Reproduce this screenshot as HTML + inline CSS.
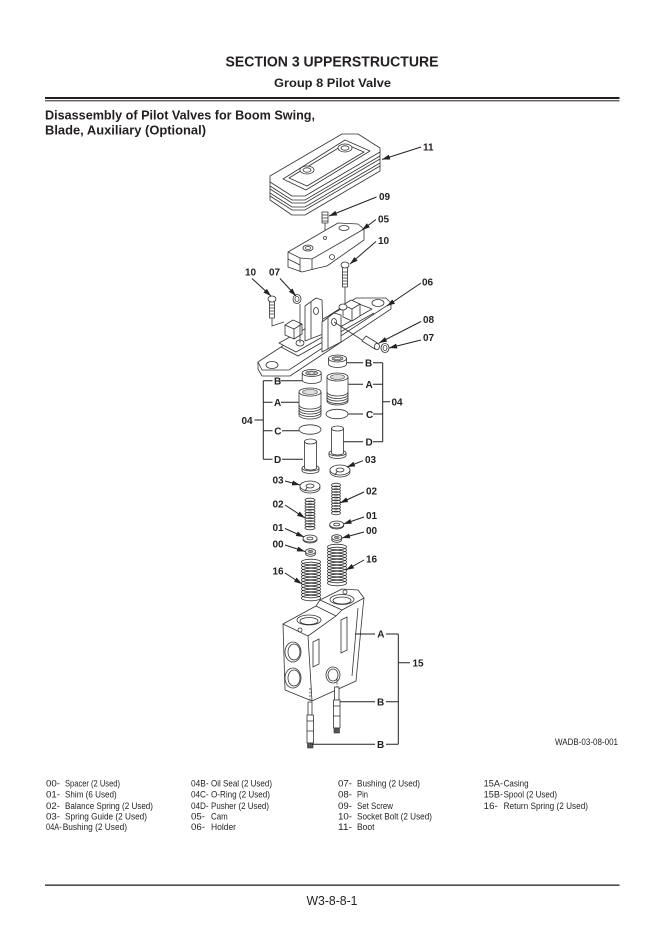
<!DOCTYPE html>
<html><head><meta charset="utf-8">
<style>
html,body{margin:0;padding:0;background:#fff;}
svg{display:block;}
text{font-family:"Liberation Sans",Arial,sans-serif;fill:#231f20;}
.b{font-weight:bold;}
.l{font-weight:bold;font-size:10px;}
.g{font-size:9px;}
.p{fill:#fff;stroke:#333;stroke-width:0.8;stroke-linejoin:round;}
.n{fill:none;stroke:#333;stroke-width:0.8;}
.k{fill:none;stroke:#222;stroke-width:1;}
</style></head><body>
<svg width="663" height="943" viewBox="0 0 663 943" xmlns="http://www.w3.org/2000/svg">
<defs>
<marker id="a" viewBox="0 0 8 5" refX="8" refY="2.5" markerWidth="8" markerHeight="5" orient="auto" markerUnits="userSpaceOnUse"><path d="M0,0L8,2.5L0,5Z" fill="#222"/></marker>
</defs>

<!-- Header -->
<text x="225.5" y="66.7" class="b" font-size="14.5" textLength="213" lengthAdjust="spacingAndGlyphs">SECTION 3 UPPERSTRUCTURE</text>
<text x="274" y="87" class="b" font-size="11.5" textLength="117" lengthAdjust="spacingAndGlyphs">Group 8 Pilot Valve</text>
<rect x="45" y="97" width="574.5" height="2" fill="#231f20"/>
<rect x="45" y="100.3" width="574.5" height="1" fill="#231f20"/>
<text x="45" y="119.5" class="b" font-size="12.5" textLength="270" lengthAdjust="spacingAndGlyphs">Disassembly of Pilot Valves for Boom Swing,</text>
<text x="45" y="134.7" class="b" font-size="12.5" textLength="161" lengthAdjust="spacingAndGlyphs">Blade, Auxiliary (Optional)</text>

<!-- Boot 11 -->
<path class="p" d="M270,180 L270,200 L292,215 L305,215 L380,171 L380,150 Z"/>
<polyline class="n" points="270,186 292,200 305,200 380,156"/>
<polyline class="n" points="270,189 292,203 305,203 380,159"/>
<polyline class="n" points="270,193 292,207 305,207 380,163"/>
<polyline class="n" points="270,196 292,210 305,210 380,166"/>
<polygon class="p" points="270,176 342,134 358,134 380,148 380,152 305,196 292,196 270,182"/>
<polygon class="p" points="283,179 345,140 370,151 306,190"/>
<polygon class="n" points="289,178 345,144 364,152 307,186"/>
<ellipse class="p" cx="307" cy="170" rx="7" ry="4"/>
<ellipse class="n" cx="307" cy="170" rx="4" ry="2.2"/>
<ellipse class="p" cx="345" cy="148" rx="7" ry="4"/>
<ellipse class="n" cx="345" cy="148" rx="4" ry="2.2"/>

<!-- Set screw 09 -->
<rect class="p" x="322" y="212" width="6" height="11"/>
<path class="n" d="M322,215H328M322,218H328M322,221H328"/>
<line class="n" x1="325" y1="223" x2="325" y2="236"/>

<!-- Cam 05 -->
<path class="p" d="M288,252 L338,223 L358,224 L364,229 L364,240 L327,266 L318,268 L302,272 L288,267 Z"/>
<path class="n" d="M288,252 L300,258 L312,259 L364,229"/>
<path class="n" d="M300,258 L300,272 M312,259 L312,270 M288,259 L300,265"/>
<ellipse class="p" cx="308" cy="248" rx="5" ry="3"/>
<ellipse class="n" cx="308" cy="248" rx="2.5" ry="1.5"/>
<ellipse class="p" cx="344" cy="228" rx="5" ry="2.5"/>
<circle class="n" cx="332" cy="257" r="2.5"/>
<circle class="n" cx="325" cy="238" r="1.5"/>

<!-- Bolts 10 -->
<rect class="p" x="342.5" y="266" width="5" height="21"/>
<path class="n" d="M342.5,272H347.5M342.5,275H347.5M342.5,278H347.5M342.5,281H347.5M342.5,284H347.5"/>
<ellipse class="p" cx="345" cy="265" rx="4" ry="3"/>
<rect class="p" x="269.5" y="300" width="5" height="18"/>
<path class="n" d="M269.5,305H274.5M269.5,308H274.5M269.5,311H274.5M269.5,314H274.5"/>
<ellipse class="p" cx="272" cy="299" rx="4" ry="3"/>

<!-- Holder 06 -->
<path class="p" d="M258,362 L356,298 L386,298 L391,303 L391,309 L290,376 L262,376 L258,369 Z"/>
<path class="n" d="M258,362 L262,370 L289,370 L391,303"/>
<ellipse class="p" cx="272" cy="365" rx="6" ry="3.5"/>
<ellipse class="p" cx="378" cy="303" rx="6" ry="3.5"/>
<path class="p" d="M279,343 L354,302 L372,309 L296,352 Z"/>
<path class="n" d="M281,347 L298,356 L374,313"/>
<path class="p" d="M285,325 L293,320 L302,324 L302,334 L294,339 L285,335 Z"/>
<path class="n" d="M285,325 L294,329 L302,324 M294,329 L294,339"/>
<path class="p" d="M343,305 L351,300 L360,304 L360,316 L352,321 L343,317 Z"/>
<path class="n" d="M343,305 L352,309 L360,304 M352,309 L352,321"/>
<path class="p" d="M305,341 L305,306 L316,298 L322,300 L323,334 Z"/>
<path class="n" d="M311,302 L311,338"/>
<ellipse class="p" cx="316" cy="311" rx="2.5" ry="3.5"/>
<path class="p" d="M322,352 L322,322 L334,313 L341,315 L341,342 Z"/>
<path class="n" d="M328,318 L328,349"/>
<ellipse class="p" cx="334" cy="322" rx="2.5" ry="3.5"/>
<ellipse class="p" cx="300" cy="343" rx="4" ry="3"/>
<ellipse class="p" cx="343" cy="307" rx="4" ry="3"/>
<path class="n" d="M300,304 L300,343 M272,318 L272,326 L284,322 M345,287 L345,304 M334,322 L362,340"/>

<!-- Pin 08, bushings 07 -->
<path class="p" d="M362,341 L366,336 L379,344 L375,349 Z"/>
<ellipse class="p" cx="377" cy="346.5" rx="2.5" ry="3.2"/>
<ellipse class="p" cx="385" cy="348" rx="4" ry="4.5"/>
<ellipse class="n" cx="385" cy="348" rx="2" ry="2.5"/>
<ellipse class="p" cx="297" cy="299" rx="4" ry="4.5"/>
<ellipse class="n" cx="297" cy="299" rx="2" ry="2.5"/>

<!-- 04 parts right -->
<path class="p" d="M328.5,358.5 L328.5,364 A9,3.5 0 0 0 346.5,364 L346.5,358.5 Z"/>
<ellipse class="p" cx="337.5" cy="358.5" rx="9" ry="3.5"/>
<ellipse fill="#bbb" stroke="#333" stroke-width="0.6" cx="337.5" cy="358.5" rx="5.5" ry="2"/>
<ellipse fill="#fff" stroke="#333" stroke-width="0.5" cx="337.5" cy="358.5" rx="3" ry="1.1"/>
<path class="p" d="M327,377 L327,401 A10.5,4 0 0 0 348,401 L348,377 Z"/>
<path class="n" d="M327,392 A10.5,4 0 0 0 348,392 M327,394.5 A10.5,4 0 0 0 348,394.5 M327,397 A10.5,4 0 0 0 348,397 M327,399.5 A10.5,4 0 0 0 348,399.5"/>
<ellipse class="p" cx="337.5" cy="377" rx="10.5" ry="4"/>
<ellipse fill="#ddd" stroke="#333" stroke-width="0.6" cx="337.5" cy="377" rx="7" ry="2.5"/>
<ellipse class="n" cx="337" cy="414" rx="11" ry="4.7"/>
<path class="p" d="M329,453 L329,455.5 A8.5,3 0 0 0 346,455.5 L346,453 Z"/>
<ellipse class="p" cx="337.5" cy="453" rx="8.5" ry="3"/>
<path class="p" d="M331.5,428.5 L331.5,453 A6,2 0 0 0 343.5,453 L343.5,428.5 Z"/>
<ellipse class="p" cx="337.5" cy="428.5" rx="6" ry="2.5"/>

<!-- 04 parts left -->
<path class="p" d="M302.2,373 L302.2,380 A9.5,3.5 0 0 0 321.2,380 L321.2,373 Z"/>
<ellipse class="p" cx="311.7" cy="373" rx="9.5" ry="3.5"/>
<ellipse fill="#bbb" stroke="#333" stroke-width="0.6" cx="311.7" cy="373" rx="6" ry="2"/>
<ellipse fill="#fff" stroke="#333" stroke-width="0.5" cx="311.7" cy="373" rx="3.2" ry="1.1"/>
<path class="p" d="M299,392 L299,415 A11,4 0 0 0 321,415 L321,392 Z"/>
<path class="n" d="M299,405 A11,4 0 0 0 321,405 M299,407.5 A11,4 0 0 0 321,407.5 M299,410 A11,4 0 0 0 321,410 M299,412.5 A11,4 0 0 0 321,412.5"/>
<ellipse class="p" cx="310" cy="392" rx="11" ry="4"/>
<ellipse fill="#ddd" stroke="#333" stroke-width="0.6" cx="310" cy="392" rx="7.5" ry="2.5"/>
<ellipse class="n" cx="310" cy="429.5" rx="11" ry="4.7"/>
<path class="p" d="M302,468 L302,470.5 A8.5,3 0 0 0 319,470.5 L319,468 Z"/>
<ellipse class="p" cx="310.5" cy="468" rx="8.5" ry="3"/>
<path class="p" d="M304.5,441.5 L304.5,468 A6,2 0 0 0 316.5,468 L316.5,441.5 Z"/>
<ellipse class="p" cx="310.5" cy="441.5" rx="6" ry="2.5"/>

<!-- Spring guides 03 -->
<ellipse class="p" cx="340" cy="472" rx="10" ry="5"/>
<ellipse class="p" cx="340" cy="470" rx="10" ry="5"/>
<ellipse class="n" cx="340" cy="470" rx="4" ry="2"/>
<path class="n" d="M337,471.5 L335,475"/>
<ellipse class="p" cx="310" cy="488" rx="10" ry="5"/>
<ellipse class="p" cx="310" cy="486" rx="10" ry="5"/>
<ellipse class="n" cx="310" cy="486" rx="4" ry="2"/>
<path class="n" d="M307,487.5 L305,491"/>

<!-- Springs 02 -->
<g class="n">
<ellipse cx="336" cy="485" rx="4.5" ry="1.8"/><ellipse cx="336" cy="487.8" rx="4.5" ry="1.8"/><ellipse cx="336" cy="490.6" rx="4.5" ry="1.8"/><ellipse cx="336" cy="493.4" rx="4.5" ry="1.8"/><ellipse cx="336" cy="496.2" rx="4.5" ry="1.8"/><ellipse cx="336" cy="499" rx="4.5" ry="1.8"/><ellipse cx="336" cy="501.8" rx="4.5" ry="1.8"/><ellipse cx="336" cy="504.6" rx="4.5" ry="1.8"/><ellipse cx="336" cy="507.4" rx="4.5" ry="1.8"/><ellipse cx="336" cy="510.2" rx="4.5" ry="1.8"/><ellipse cx="336" cy="513" rx="4.5" ry="1.8"/>
<ellipse cx="310" cy="500" rx="5" ry="1.8"/><ellipse cx="310" cy="502.8" rx="5" ry="1.8"/><ellipse cx="310" cy="505.6" rx="5" ry="1.8"/><ellipse cx="310" cy="508.4" rx="5" ry="1.8"/><ellipse cx="310" cy="511.2" rx="5" ry="1.8"/><ellipse cx="310" cy="514" rx="5" ry="1.8"/><ellipse cx="310" cy="516.8" rx="5" ry="1.8"/><ellipse cx="310" cy="519.6" rx="5" ry="1.8"/><ellipse cx="310" cy="522.4" rx="5" ry="1.8"/><ellipse cx="310" cy="525.2" rx="5" ry="1.8"/><ellipse cx="310" cy="528" rx="5" ry="1.8"/>
</g>

<!-- Shims 01 / spacers 00 -->
<ellipse class="p" cx="336.7" cy="525.5" rx="7" ry="3.5"/>
<ellipse class="p" cx="336.7" cy="524.5" rx="7" ry="3.5"/>
<ellipse class="n" cx="336.7" cy="524.5" rx="3" ry="1.4"/>
<ellipse class="p" cx="336.7" cy="539.5" rx="5" ry="2.8"/>
<ellipse class="p" cx="336.7" cy="537.5" rx="5" ry="2.8"/>
<ellipse fill="#999" stroke="#333" stroke-width="0.5" cx="336.7" cy="537.5" rx="2.5" ry="1.2"/>
<ellipse class="p" cx="310" cy="539.5" rx="7" ry="3.5"/>
<ellipse class="p" cx="310" cy="538.5" rx="7" ry="3.5"/>
<ellipse class="n" cx="310" cy="538.5" rx="3" ry="1.4"/>
<ellipse class="p" cx="310.5" cy="553.5" rx="5" ry="2.8"/>
<ellipse class="p" cx="310.5" cy="551.5" rx="5" ry="2.8"/>
<ellipse fill="#999" stroke="#333" stroke-width="0.5" cx="310.5" cy="551.5" rx="2.5" ry="1.2"/>

<!-- Springs 16 -->
<g class="n">
<ellipse cx="337" cy="547" rx="9.5" ry="2.8"/><ellipse cx="337" cy="550" rx="9.5" ry="2.8"/><ellipse cx="337" cy="553" rx="9.5" ry="2.8"/><ellipse cx="337" cy="556" rx="9.5" ry="2.8"/><ellipse cx="337" cy="559" rx="9.5" ry="2.8"/><ellipse cx="337" cy="562" rx="9.5" ry="2.8"/><ellipse cx="337" cy="565" rx="9.5" ry="2.8"/><ellipse cx="337" cy="568" rx="9.5" ry="2.8"/><ellipse cx="337" cy="571" rx="9.5" ry="2.8"/><ellipse cx="337" cy="574" rx="9.5" ry="2.8"/><ellipse cx="337" cy="577" rx="9.5" ry="2.8"/><ellipse cx="337" cy="580" rx="9.5" ry="2.8"/><ellipse cx="337" cy="583" rx="9.5" ry="2.8"/>
<ellipse cx="311" cy="562" rx="9.5" ry="2.8"/><ellipse cx="311" cy="565" rx="9.5" ry="2.8"/><ellipse cx="311" cy="568" rx="9.5" ry="2.8"/><ellipse cx="311" cy="571" rx="9.5" ry="2.8"/><ellipse cx="311" cy="574" rx="9.5" ry="2.8"/><ellipse cx="311" cy="577" rx="9.5" ry="2.8"/><ellipse cx="311" cy="580" rx="9.5" ry="2.8"/><ellipse cx="311" cy="583" rx="9.5" ry="2.8"/><ellipse cx="311" cy="586" rx="9.5" ry="2.8"/><ellipse cx="311" cy="589" rx="9.5" ry="2.8"/><ellipse cx="311" cy="592" rx="9.5" ry="2.8"/><ellipse cx="311" cy="595" rx="9.5" ry="2.8"/><ellipse cx="311" cy="598" rx="9.5" ry="2.8"/>
</g>

<!-- Casing 15A -->
<path class="p" d="M283,624 L316,606 L320,600 L342,589 L358,590 L364,598 L363,607 L356,681 L312,701 L285,690 Z"/>
<path class="n" d="M283,624 L308,636 L312,701 M308,636 L336,616 L342,610 M316,606 L336,616 M320,600 L342,610 L364,598 M358,608 L352,676"/>
<ellipse class="p" cx="309" cy="620" rx="12" ry="5"/>
<ellipse class="n" cx="309" cy="621" rx="9" ry="3.5"/>
<ellipse class="p" cx="342" cy="599.5" rx="12" ry="5"/>
<ellipse class="n" cx="342" cy="600.5" rx="9" ry="3.5"/>
<path class="n" d="M313,642 L319,639 L319,664 L313,667 Z M341,620 L347,617 L347,650 L341,653 Z"/>
<ellipse class="p" cx="293" cy="652" rx="8" ry="10"/>
<ellipse class="n" cx="294" cy="652" rx="6" ry="8"/>
<ellipse class="p" cx="293" cy="678" rx="8" ry="10"/>
<ellipse class="n" cx="294" cy="678" rx="6" ry="8"/>
<ellipse class="p" cx="333" cy="675" rx="7" ry="8"/>
<ellipse class="n" cx="333" cy="675" rx="5" ry="6"/>
<circle class="n" cx="300" cy="630" r="2"/>
<circle class="n" cx="345" cy="592" r="2"/>

<!-- Spools 15B -->
<path class="n" stroke-dasharray="2,1.5" d="M310,688 L310,702 M337,679 L337,687"/>
<rect class="p" x="334.5" y="687" width="4.5" height="13"/>
<rect class="p" x="333.5" y="700" width="6.5" height="28"/>
<path class="n" d="M333.5,706H340M333.5,716H340"/>
<rect x="334" y="728" width="5.5" height="5" fill="#555" stroke="#333" stroke-width="0.6"/>
<rect class="p" x="308" y="702" width="4" height="13"/>
<rect class="p" x="307" y="715" width="6.5" height="28"/>
<path class="n" d="M307,721H313.5M307,731H313.5"/>
<rect x="307.5" y="743" width="5.5" height="5" fill="#555" stroke="#333" stroke-width="0.6"/>

<!-- Leaders with arrows -->
<g class="k" marker-end="url(#a)">
<line x1="421" y1="147" x2="382" y2="159.5"/>
<line x1="376.5" y1="197" x2="329" y2="216"/>
<line x1="376" y1="219.5" x2="362" y2="230"/>
<line x1="376" y1="241.5" x2="350" y2="264"/>
<line x1="252" y1="278.5" x2="271" y2="296"/>
<line x1="280" y1="278.5" x2="296" y2="296"/>
<line x1="421" y1="283" x2="387" y2="306"/>
<line x1="421" y1="321.5" x2="379" y2="343"/>
<line x1="421" y1="340" x2="389" y2="348"/>
<line x1="363" y1="460.7" x2="347" y2="467"/>
<line x1="285" y1="481" x2="300" y2="485"/>
<line x1="364" y1="492" x2="340" y2="503"/>
<line x1="285" y1="505" x2="305" y2="518"/>
<line x1="364" y1="517" x2="343.5" y2="524"/>
<line x1="364" y1="532" x2="342" y2="538"/>
<line x1="285" y1="528.5" x2="304" y2="537"/>
<line x1="285" y1="545" x2="305" y2="551.5"/>
<line x1="364" y1="560" x2="346" y2="570"/>
<line x1="285" y1="573" x2="302" y2="584"/>
</g>

<!-- Brackets -->
<g class="k">
<path d="M347,362.7H363M373,362.7H382.7M348.5,384.3H363M373,384.3H382.7M348.5,414H363M373,414H382.7M343.5,441.7H363M373,441.7H382.7M382.7,362.7V441.7M382.7,401.7H390"/>
<path d="M280.5,380.7H302M263.3,380.7H272.5M281,402.3H299M263.3,402.3H272.5M282,430.7H299M263.3,430.7H272.5M282,459.3H303M263.3,459.3H272.5M263.3,380.7V459.3M254.5,420H263.3"/>
<path d="M355,634H375M386,634H398.3M398.3,634V744.3M398.3,662.7H410M340,701.7H375M386,701.7H398.3M312,744.3H375M386,744.3H398.3"/>
</g>

<!-- Labels -->
<g class="l">
<text x="423" y="150.5">11</text>
<text x="379" y="200">09</text>
<text x="378" y="222.5">05</text>
<text x="378" y="244">10</text>
<text x="245" y="275.5">10</text>
<text x="269" y="275.5">07</text>
<text x="422" y="285.5">06</text>
<text x="423" y="323">08</text>
<text x="423" y="341">07</text>
<text x="365" y="366.5">B</text>
<text x="365.5" y="388">A</text>
<text x="366" y="418">C</text>
<text x="365.5" y="445.5">D</text>
<text x="391.5" y="405.5">04</text>
<text x="274" y="384.3">B</text>
<text x="274" y="406">A</text>
<text x="274.3" y="434.3">C</text>
<text x="274" y="463">D</text>
<text x="241.5" y="424">04</text>
<text x="365" y="463">03</text>
<text x="272.5" y="483.3">03</text>
<text x="366" y="494.3">02</text>
<text x="272.5" y="507.3">02</text>
<text x="366" y="519">01</text>
<text x="366" y="534">00</text>
<text x="272.5" y="531">01</text>
<text x="272.5" y="547.5">00</text>
<text x="366" y="562.5">16</text>
<text x="272.5" y="574.3">16</text>
<text x="377.3" y="637.5">A</text>
<text x="412.5" y="666.5">15</text>
<text x="377" y="705.5">B</text>
<text x="377" y="748">B</text>
</g>

<text x="555" y="745" font-size="9" textLength="63" lengthAdjust="spacingAndGlyphs">WADB-03-08-001</text>

<!-- Legend -->
<g class="g">
<text x="46" y="786.5" textLength="14" lengthAdjust="spacingAndGlyphs">00-</text><text x="65" y="786.5" textLength="55" lengthAdjust="spacingAndGlyphs">Spacer (2 Used)</text>
<text x="46" y="797.5" textLength="14" lengthAdjust="spacingAndGlyphs">01-</text><text x="65" y="797.5" textLength="51.7" lengthAdjust="spacingAndGlyphs">Shim (6 Used)</text>
<text x="46" y="809" textLength="14" lengthAdjust="spacingAndGlyphs">02-</text><text x="65" y="809" textLength="88" lengthAdjust="spacingAndGlyphs">Balance Spring (2 Used)</text>
<text x="46" y="819.5" textLength="14" lengthAdjust="spacingAndGlyphs">03-</text><text x="65" y="819.5" textLength="82" lengthAdjust="spacingAndGlyphs">Spring Guide (2 Used)</text>
<text x="46" y="830" textLength="15.7" lengthAdjust="spacingAndGlyphs">04A-</text><text x="62.7" y="830" textLength="64.3" lengthAdjust="spacingAndGlyphs">Bushing (2 Used)</text>

<text x="191" y="786.5" textLength="17.6" lengthAdjust="spacingAndGlyphs">04B-</text><text x="211" y="786.5" textLength="61" lengthAdjust="spacingAndGlyphs">Oil Seal (2 Used)</text>
<text x="191" y="797.5" textLength="17.6" lengthAdjust="spacingAndGlyphs">04C-</text><text x="211" y="797.5" textLength="59" lengthAdjust="spacingAndGlyphs">O-Ring (2 Used)</text>
<text x="191" y="809" textLength="17.6" lengthAdjust="spacingAndGlyphs">04D-</text><text x="211" y="809" textLength="58" lengthAdjust="spacingAndGlyphs">Pusher (2 Used)</text>
<text x="191" y="819.5" textLength="14" lengthAdjust="spacingAndGlyphs">05-</text><text x="211" y="819.5" textLength="16.7" lengthAdjust="spacingAndGlyphs">Cam</text>
<text x="191" y="830" textLength="14" lengthAdjust="spacingAndGlyphs">06-</text><text x="211" y="830" textLength="25" lengthAdjust="spacingAndGlyphs">Holder</text>

<text x="338" y="786.5" textLength="14" lengthAdjust="spacingAndGlyphs">07-</text><text x="357" y="786.5" textLength="63" lengthAdjust="spacingAndGlyphs">Bushing (2 Used)</text>
<text x="338" y="797.5" textLength="14" lengthAdjust="spacingAndGlyphs">08-</text><text x="357" y="797.5" textLength="11" lengthAdjust="spacingAndGlyphs">Pin</text>
<text x="338" y="809" textLength="14" lengthAdjust="spacingAndGlyphs">09-</text><text x="357" y="809" textLength="36" lengthAdjust="spacingAndGlyphs">Set Screw</text>
<text x="338" y="819.5" textLength="14" lengthAdjust="spacingAndGlyphs">10-</text><text x="357" y="819.5" textLength="75" lengthAdjust="spacingAndGlyphs">Socket Bolt (2 Used)</text>
<text x="338" y="830" textLength="14" lengthAdjust="spacingAndGlyphs">11-</text><text x="357" y="830" textLength="17.5" lengthAdjust="spacingAndGlyphs">Boot</text>

<text x="483.7" y="786.5" textLength="19.3" lengthAdjust="spacingAndGlyphs">15A-</text><text x="503.6" y="786.5" textLength="25" lengthAdjust="spacingAndGlyphs">Casing</text>
<text x="483.7" y="797.5" textLength="19.3" lengthAdjust="spacingAndGlyphs">15B-</text><text x="503.6" y="797.5" textLength="53.4" lengthAdjust="spacingAndGlyphs">Spool (2 Used)</text>
<text x="483.7" y="809" textLength="14" lengthAdjust="spacingAndGlyphs">16-</text><text x="503.6" y="809" textLength="84.4" lengthAdjust="spacingAndGlyphs">Return Spring (2 Used)</text>
</g>

<!-- Footer -->
<rect x="45" y="884.5" width="574.5" height="1.3" fill="#231f20"/>
<text x="306.5" y="905" font-size="13" textLength="51" lengthAdjust="spacingAndGlyphs">W3-8-8-1</text>
</svg>
</body></html>
